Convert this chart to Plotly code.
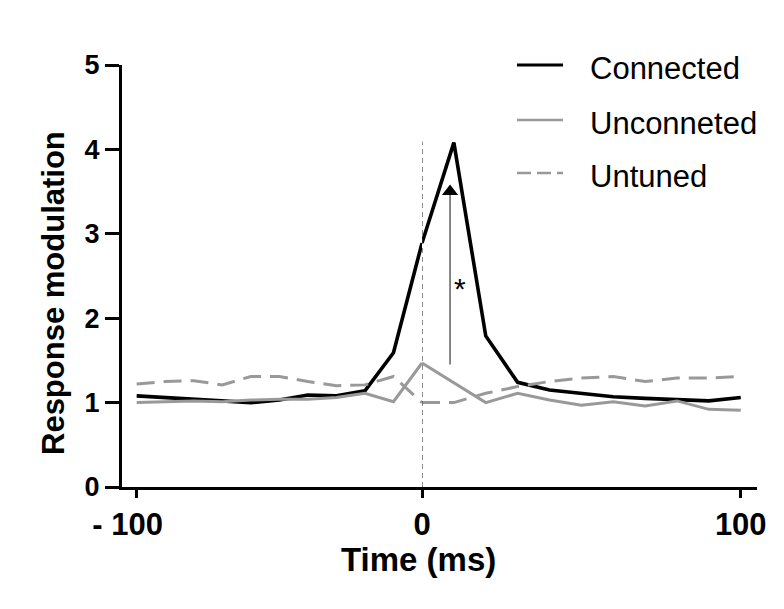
import plotly.graph_objects as go

# ---------------- data ----------------
time_ms = [-100, -90, -80, -70, -60, -50, -40, -30, -20, -10, 0,
           10, 20, 30, 40, 50, 60, 70, 80, 90, 100]
connected = [1.08, 1.06, 1.04, 1.02, 1.00, 1.03, 1.09, 1.08, 1.14, 1.59, 2.89,
             4.08, 1.79, 1.24, 1.15, 1.11, 1.07, 1.05, 1.04, 1.02, 1.06]
unconnected = [1.00, 1.01, 1.02, 1.01, 1.03, 1.04, 1.04, 1.06, 1.11, 1.01, 1.47,
               1.23, 1.00, 1.11, 1.03, 0.97, 1.01, 0.96, 1.02, 0.92, 0.91]
untuned = [1.22, 1.25, 1.26, 1.21, 1.31, 1.31, 1.25, 1.20, 1.21, 1.31, 1.00,
           1.00, 1.11, 1.19, 1.25, 1.29, 1.31, 1.25, 1.29, 1.29, 1.31]

series_names = ["Connected", "Unconneted", "Untuned"]
x_tick_left = [-100]
x_tick_left_text = ["- 100"]
x_tick_right = [0, 100]
x_tick_right_text = ["0", "100"]
y_ticks = [0, 1, 2, 3, 4, 5]
x_title = "Time (ms)"
y_title = "Response modulation"

onset_time = [0, 0]          # vertical dashed reference line
onset_span = [0, 4.09]
arrow_time = [8.8]
arrow_from = [1.45]
arrow_to = [3.50]
star_time = 12
star_value = 2.35

# ---------------- styles ----------------
BLACK = "#000000"
GRAY = "#999999"
styles = {
    "Connected": dict(color=BLACK, width=3.6, dash="solid"),
    "Unconneted": dict(color=GRAY, width=3, dash="solid"),
    "Untuned": dict(color=GRAY, width=3, dash="18px,9px"),
}
values = {"Connected": connected, "Unconneted": unconnected, "Untuned": untuned}

SANS = "Liberation Sans, Arial"

fig = go.Figure()

left_idx = [i for i, t in enumerate(time_ms) if t <= 0]
right_idx = [i for i, t in enumerate(time_ms) if t >= 0]

for name in series_names:
    v = values[name]
    st = styles[name]
    fig.add_trace(go.Scatter(
        x=[time_ms[i] for i in left_idx], y=[v[i] for i in left_idx],
        mode="lines", line=st, xaxis="x", yaxis="y", showlegend=False,
        name=name))
    fig.add_trace(go.Scatter(
        x=[time_ms[i] for i in right_idx], y=[v[i] for i in right_idx],
        mode="lines", line=st, xaxis="x2", yaxis="y", showlegend=False,
        name=name))

# vertical dashed reference line at t = 0
fig.add_trace(go.Scatter(x=onset_time, y=onset_span, mode="lines",
                         line=dict(color="#444444", width=1.2, dash="5px,4px"),
                         xaxis="x2", yaxis="y", showlegend=False))
# arrow shaft
fig.add_trace(go.Scatter(x=arrow_time * 2, y=arrow_from + arrow_to, mode="lines",
                         line=dict(color="#555555", width=1.4),
                         xaxis="x2", yaxis="y", showlegend=False))
# arrow head
fig.add_trace(go.Scatter(x=arrow_time, y=arrow_to, mode="markers",
                         marker=dict(symbol="triangle-up", size=14, color=BLACK),
                         xaxis="x2", yaxis="y", showlegend=False))

fig.add_annotation(x=star_time, y=star_value, xref="x2", yref="y", text="*",
                   showarrow=False, font=dict(family=SANS, size=30, color=BLACK))

# layout geometry
PL, PR, PT, PB = 122, 27, 65, 122
W, H = 784, 609
pw, ph = W - PL - PR, H - PT - PB


def px2paper_x(px):
    return (px - PL) / pw


def py2paper_y(py):
    return (H - PB - py) / ph


# custom legend
legend_rows = [65, 120, 173]
for name, row in zip(series_names, legend_rows):
    st = styles[name]
    fig.add_shape(type="line", xref="paper", yref="paper",
                  x0=px2paper_x(517), x1=px2paper_x(563),
                  y0=py2paper_y(row), y1=py2paper_y(row),
                  line=dict(color=st["color"], width=st["width"] - 0.5,
                            dash="14px,6px" if st["dash"] != "solid" else "solid"))
    fig.add_annotation(xref="paper", yref="paper", x=px2paper_x(588),
                       y=py2paper_y(row + 3), xanchor="left", yanchor="middle",
                       text=name, showarrow=False,
                       font=dict(family=SANS, size=31, color=BLACK))

# axis titles
fig.add_annotation(xref="paper", yref="paper", x=px2paper_x(418),
                   y=py2paper_y(559), xanchor="center", yanchor="middle",
                   text=x_title, showarrow=False,
                   font=dict(family=SANS, size=33, color=BLACK, weight="bold"))
fig.add_annotation(xref="paper", yref="paper", x=px2paper_x(53),
                   y=py2paper_y(293), xanchor="center", yanchor="middle",
                   text=y_title, showarrow=False, textangle=-90,
                   font=dict(family=SANS, size=31, color=BLACK, weight="bold"))

split = 300 / pw
axis_common = dict(showline=True, linecolor=BLACK, linewidth=3, ticks="outside",
                   ticklen=8, tickwidth=3, tickcolor=BLACK, showgrid=False,
                   zeroline=False,
                   tickfont=dict(family=SANS, size=31, color=BLACK, weight="bold"))

fig.update_layout(
    width=W, height=H,
    margin=dict(l=PL, r=PR, t=PT, b=PB),
    paper_bgcolor="white", plot_bgcolor="white",
    xaxis=dict(domain=[0, split], range=[-105.15, 0], tickvals=x_tick_left,
               ticktext=x_tick_left_text, anchor="y", ticklabelshift=-9,
               **axis_common),
    xaxis2=dict(domain=[split, 1], range=[0, 105.1], tickvals=x_tick_right,
                ticktext=x_tick_right_text, anchor="y", **axis_common),
    yaxis=dict(range=[0, 5], tickvals=y_ticks, showline=True, linecolor=BLACK,
               linewidth=3, ticks="outside", ticklen=14, tickwidth=2.5,
               tickcolor=BLACK, showgrid=False, zeroline=False, anchor="x",
               tickfont=dict(family=SANS, size=27, color=BLACK, weight="bold")),
)

fig.write_html("out.html")
